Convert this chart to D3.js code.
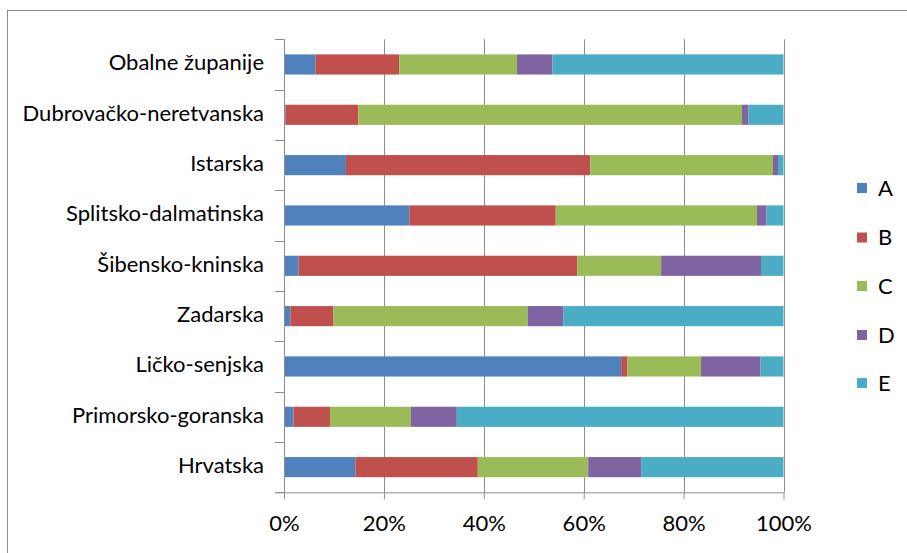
<!DOCTYPE html>
<html>
<head>
<meta charset="utf-8">
<script src="https://cdn.jsdelivr.net/npm/d3@7"></script>
<style>
  html, body { margin: 0; padding: 0; background: #fff; }
  svg { display: block; font-family: Lato, "Open Sans", sans-serif; }
</style>
</head>
<body>
<svg id="chart" width="907" height="553"></svg>
<script>
const categories = ["Obalne županije", "Dubrovačko-neretvanska", "Istarska", "Splitsko-dalmatinska",
  "Šibensko-kninska", "Zadarska", "Ličko-senjska", "Primorsko-goranska", "Hrvatska"];
const seriesNames = ["A", "B", "C", "D", "E"];
const seriesColors = ["#4F81BD", "#C0504D", "#9BBB59", "#8064A2", "#4BACC6"];
const valuesA = [6.3, 0.3, 12.4, 25.1, 2.9, 1.3, 67.5, 1.9, 14.3];
const valuesB = [16.8, 14.6, 48.9, 29.3, 55.8, 8.6, 1.2, 7.3, 24.5];
const valuesC = [23.6, 76.8, 36.6, 40.3, 16.8, 38.9, 14.8, 16.2, 22.1];
const valuesD = [7.1, 1.3, 1.0, 1.9, 20.0, 7.1, 11.9, 9.2, 10.6];
const valuesE = [46.3, 7.0, 1.1, 3.4, 4.5, 44.1, 4.6, 65.4, 28.5];
const tickValues = [0, 0.2, 0.4, 0.6, 0.8, 1.0];
const tickLabels = ["0%", "20%", "40%", "60%", "80%", "100%"];

const seriesValues = [valuesA, valuesB, valuesC, valuesD, valuesE];
const rows = categories.map((c, i) => {
  const r = { cat: c };
  seriesNames.forEach((s, j) => r[s] = seriesValues[j][i]);
  return r;
});
const stacked = d3.stack().keys(seriesNames).offset(d3.stackOffsetExpand)(rows);

const svg = d3.select("#chart");
const pLeft = 284, pRight = 783.5, pTop = 39.3, pBottom = 492.3;
const fontSize = 22;

// outer frame
svg.append("rect").attr("x", 7.5).attr("y", 10.5).attr("width", 950).attr("height", 600)
  .attr("fill", "none").attr("stroke", "#8c8c8c").attr("stroke-width", 1);

const x = d3.scaleLinear().domain([0, 1]).range([pLeft, pRight]);
const y = d3.scaleBand().domain(categories).range([pTop, pBottom]).paddingInner(0.6).paddingOuter(0.3);

// gridlines
svg.append("g").selectAll("line").data(tickValues.slice(1)).join("line")
  .attr("x1", d => Math.round(x(d)) + 0.5).attr("x2", d => Math.round(x(d)) + 0.5)
  .attr("y1", pTop).attr("y2", pBottom)
  .attr("stroke", "#8c8c8c").attr("stroke-width", 1);

// bars
svg.append("g").selectAll("g").data(stacked).join("g")
  .attr("fill", (d, i) => seriesColors[i])
  .selectAll("rect").data(d => d).join("rect")
  .attr("x", d => x(d[0]))
  .attr("width", d => Math.max(0, x(d[1]) - x(d[0])))
  .attr("y", d => y(d.data.cat))
  .attr("height", y.bandwidth());

// x axis
const xAxis = d3.axisBottom(x).tickValues(tickValues).tickFormat((d, i) => tickLabels[i])
  .tickSize(7).tickSizeOuter(0).tickPadding(16);
const gx = svg.append("g").attr("transform", `translate(0,${pBottom})`).call(xAxis);
gx.select(".domain").attr("stroke", "#8c8c8c").attr("d", `M${pLeft - 9},0.5H${pRight}`);
gx.selectAll(".tick line").attr("stroke", "#8c8c8c");
gx.selectAll("text").attr("font-size", fontSize).attr("fill", "#000").attr("font-family", "Lato, sans-serif");

// y axis: line + ticks at band boundaries
const gy = svg.append("g");
gy.append("line").attr("x1", pLeft + 0.5).attr("x2", pLeft + 0.5).attr("y1", pTop).attr("y2", pBottom)
  .attr("stroke", "#8c8c8c");
const boundaries = d3.range(categories.length + 1).map(i => pTop + i * (pBottom - pTop) / categories.length);
gy.selectAll("line.t").data(boundaries).join("line").attr("class", "t")
  .attr("x1", pLeft - 9).attr("x2", pLeft).attr("y1", d => Math.round(d) + 0.5).attr("y2", d => Math.round(d) + 0.5)
  .attr("stroke", "#8c8c8c");
gy.selectAll("text").data(categories).join("text")
  .attr("x", 264).attr("y", d => y(d) + y.bandwidth() / 2 - 2.5)
  .attr("text-anchor", "end").attr("dominant-baseline", "central")
  .attr("font-size", fontSize).attr("fill", "#000")
  .text(d => d);

// legend
const legendY = [188, 237.5, 286, 335, 383];
const lg = svg.append("g").selectAll("g").data(seriesNames).join("g")
  .attr("transform", (d, i) => `translate(857,${legendY[i]})`);
lg.append("rect").attr("x", 0).attr("y", -5).attr("width", 10).attr("height", 10)
  .attr("fill", (d, i) => seriesColors[i]);
lg.append("text").attr("x", 21).attr("y", -1).attr("dominant-baseline", "central")
  .attr("font-size", fontSize).attr("fill", "#000").text(d => d);
</script>
</body>
</html>
